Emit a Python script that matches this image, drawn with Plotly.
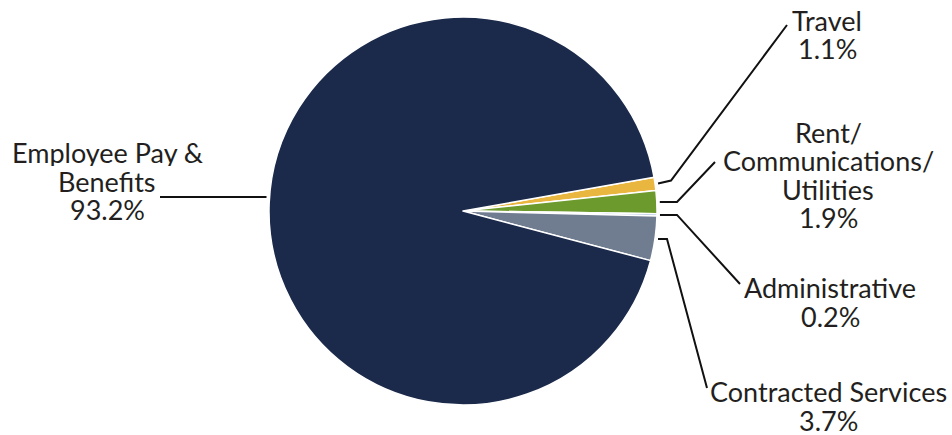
import math
import plotly.graph_objects as go

# ---- data ----
categories = ["Travel", "Rent/Communications/Utilities", "Administrative",
              "Contracted Services", "Employee Pay & Benefits"]
values = [1.1, 1.9, 0.2, 3.7, 93.2]
label_lines = [["Travel"], ["Rent/", "Communications/", "Utilities"], ["Administrative"],
               ["Contracted Services"], ["Employee Pay &", "Benefits"]]
colors = ["#e9b740", "#6d9a2c", "#a9c1e3", "#707c90", "#1b2a4b"]

# ---- layout (pixels) ----
W, H = 952, 435
CX, CY, R = 463, 211, 194
ROTATION = 80
FONT = "Lato"
FS = 27
LINE_H = 28.5
TEXT_COLOR = "#231f20"

# per label: text centre x, first line centre y, elbow (x, dy), end point
label_layout = [
    dict(tx=827, ty=20, elbow=(671, -3), end=(787, 25)),
    dict(tx=828, ty=131.5, elbow=(677, 0), end=(715, 162)),
    dict(tx=830, ty=287, elbow=(677, 0), end=(740, 284)),
    dict(tx=828, ty=391, elbow=(667, 0), end=(707, 388)),
    dict(tx=107, ty=152, elbow=None, end=(160, 197)),
]


def px(x):
    return x / W


def py(y):
    return 1 - y / H


fig = go.Figure(go.Pie(
    labels=categories, values=values, sort=False, direction="clockwise",
    rotation=ROTATION, textinfo="none", hoverinfo="label+percent",
    marker=dict(colors=colors, line=dict(color="white", width=1.5)),
    domain=dict(x=[px(CX - R), px(CX + R)], y=[py(CY + R), py(CY - R)]),
    showlegend=False,
))

total = sum(values)
cum = 0.0
shapes = []
annotations = []
for cat, v, lines, lay in zip(categories, values, label_lines, label_layout):
    mid = ROTATION + (cum + v / 2) / total * 360
    cum += v
    a = math.radians(mid)
    if lay["elbow"] is not None:
        sx = CX + (R + 3) * math.sin(a)
        sy = CY - (R + 3) * math.cos(a)
        ex, edy = lay["elbow"]
        pts = [(sx, sy), (ex, sy + edy), lay["end"]]
    else:
        # horizontal leader at the given height, starting at the pie's rim
        ly = lay["end"][1]
        side = 1 if math.sin(a) > 0 else -1
        sx = CX + side * (math.sqrt(R ** 2 - (ly - CY) ** 2) + 3)
        pts = [(sx, ly), (lay["end"][0], ly)]
    path = "M " + " L ".join(f"{px(x)} {py(y)}" for x, y in pts)
    shapes.append(dict(type="path", xref="paper", yref="paper", path=path,
                       line=dict(color="#111111", width=2)))
    all_lines = lines + [f"{v:.1f}%"]
    for i, t in enumerate(all_lines):
        annotations.append(dict(
            x=px(lay["tx"]), y=py(lay["ty"] + i * LINE_H), xref="paper", yref="paper",
            text=t, showarrow=False, xanchor="center", yanchor="middle",
            height=28, valign="middle",
            font=dict(family=FONT, size=FS, color=TEXT_COLOR)))

fig.update_layout(
    width=W, height=H, margin=dict(l=0, r=0, t=0, b=0),
    paper_bgcolor="white", plot_bgcolor="white",
    shapes=shapes, annotations=annotations,
)

fig.write_html("out.html")
